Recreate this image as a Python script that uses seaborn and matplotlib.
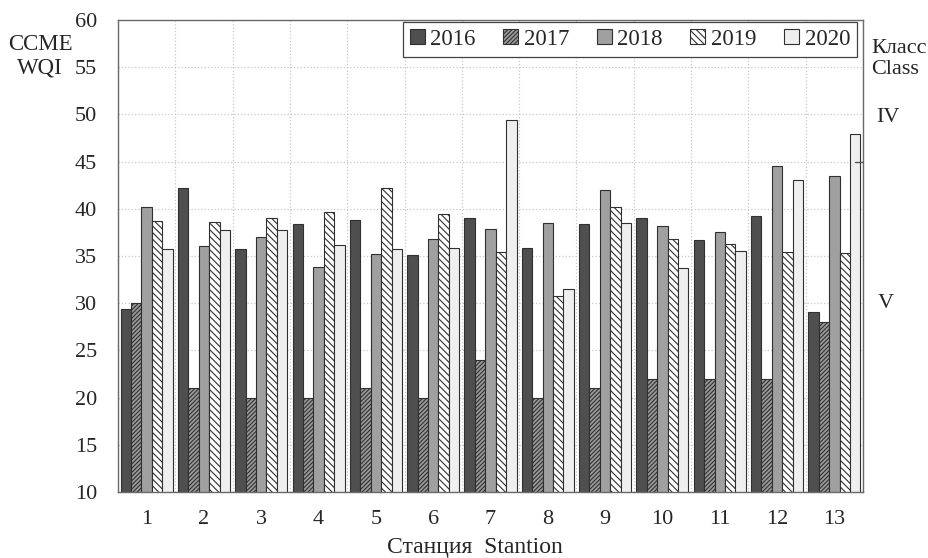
import numpy as np
import pandas as pd
import matplotlib.pyplot as plt
import seaborn as sns

# values (CCME WQI per station and year)
stations = [str(i) for i in range(1, 14)]
years = ['2016', '2017', '2018', '2019', '2020']
v2016 = [29.4, 42.2, 35.7, 38.4, 38.8, 35.1, 39.0, 35.8, 38.4, 39.0, 36.7, 39.2, 29.1]
v2017 = [30.0, 21.0, 20.0, 20.0, 21.0, 20.0, 24.0, 20.0, 21.0, 22.0, 22.0, 22.0, 28.0]
v2018 = [40.2, 36.1, 37.0, 33.8, 35.2, 36.8, 37.9, 38.5, 42.0, 38.2, 37.5, 44.5, 43.5]
v2019 = [38.7, 38.6, 39.0, 39.7, 42.2, 39.5, 35.4, 30.8, 40.2, 36.8, 36.3, 35.4, 35.3]
v2020 = [35.7, 37.8, 37.8, 36.2, 35.7, 35.8, 49.4, 31.5, 38.5, 33.7, 35.5, 43.0, 47.9]

df = pd.DataFrame({'2016': v2016, '2017': v2017, '2018': v2018,
                   '2019': v2019, '2020': v2020}, index=stations)
df = df.reset_index(names='station').melt(id_vars='station', var_name='year',
                                           value_name='wqi')

sns.set_style('white')
plt.rcParams['font.family'] = ['Liberation Serif', 'DejaVu Serif']
plt.rcParams['hatch.linewidth'] = 0.8

colors = ['#4f4f4f', '#9a9a9a', '#a0a0a0', '#ffffff', '#efefef']
hatches = ['', '////////', '', '\\\\\\\\\\', '']

fig = plt.figure(figsize=(9.29, 5.58), dpi=100)
ax = fig.add_axes([118 / 929, 1 - 492 / 558, 745 / 929, 472 / 558])

sns.barplot(data=df, x='station', y='wqi', hue='year', palette=colors,
            width=0.91, saturation=1, edgecolor='#303030', linewidth=0.8,
            ax=ax, zorder=2)

for cont, h in zip(ax.containers, hatches):
    for bar in cont:
        bar.set_hatch(h)

ax.set_ylim(10, 60)
ax.set_xlim(-0.5, 12.5)
ax.set_yticks(np.arange(10, 61, 5))
ax.set_xticks(np.arange(-0.5, 13, 1), minor=True)
ax.grid(True, which='major', axis='y', color='#c8c8c8', linestyle=':', linewidth=0.9, zorder=0)
ax.grid(True, which='minor', axis='x', color='#c8c8c8', linestyle=':', linewidth=0.9, zorder=0)
ax.set_axisbelow(True)

ax.tick_params(axis='y', which='major', direction='in', length=5, pad=15,
               labelsize=16, color='#555555')
ax.tick_params(axis='x', which='major', length=0, pad=13, labelsize=16)
ax.tick_params(axis='x', which='minor', length=0)
ax.set_xlabel('')
ax.set_ylabel('')
for s in ax.spines.values():
    s.set_color('#6a6a6a')
    s.set_linewidth(1.0)

# class boundary tick on the right spine
ax.plot([12.36, 12.5], [45, 45], color='#555555', linewidth=1.0, clip_on=False, zorder=3)

ax.legend(ax.containers, years, loc='upper right', ncol=5, fontsize=16.5,
          frameon=True, fancybox=False, edgecolor='#444444', framealpha=1,
          handlelength=0.65, handleheight=0.65, handletextpad=0.25,
          columnspacing=1.2, borderpad=0.3, borderaxespad=0,
          bbox_to_anchor=(1 - 6 / 745, 1 - 2 / 472))
ax.get_legend().get_frame().set_linewidth(0.9)

fig.text(40 / 929, 1 - 56 / 558, 'CCME\nWQI', ha='center', va='center',
         fontsize=16.5, linespacing=1.15)
fig.text(871 / 929, 1 - 59 / 558, 'Класс\nClass', ha='left', va='center',
         fontsize=16, linespacing=1.2)
fig.text(876 / 929, 1 - 118 / 558, 'IV', ha='left', va='center', fontsize=16)
fig.text(878 / 929, 1 - 303 / 558, 'V', ha='left', va='center', fontsize=16)
fig.text(475 / 929, 1 - 547 / 558, 'Станция  Stantion', ha='center', va='center',
         fontsize=17)

fig.savefig('out.png', dpi=100)
